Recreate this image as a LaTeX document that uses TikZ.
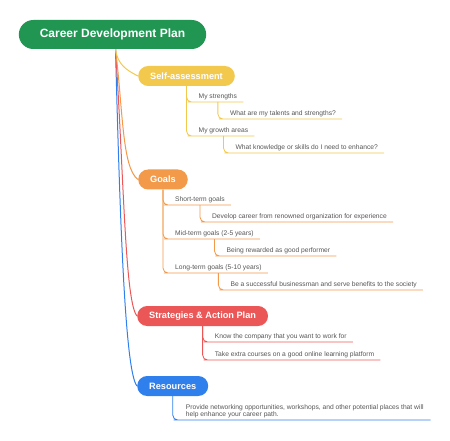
\documentclass[tikz,border=0pt]{standalone}
\usepackage{fontspec}
\setmainfont{Liberation Sans}
\usetikzlibrary{calc}
\definecolor{cgreen}{HTML}{219653}
\definecolor{cyellow}{HTML}{F2C94C}
\definecolor{corange}{HTML}{F2994A}
\definecolor{cred}{HTML}{EB5757}
\definecolor{cblue}{HTML}{2F80ED}
\definecolor{ctext}{HTML}{555555}
\begin{document}
\begin{tikzpicture}[x=1pt,y=-1pt,
 rootbox/.style={fill=cgreen, text=white, rounded corners=14.5pt, minimum height=29pt, inner xsep=21pt, font=\fontsize{12}{14}\selectfont\bfseries},
 topic/.style={fill=#1, text=white, rounded corners=10pt, minimum height=20pt, inner xsep=12pt, font=\fontsize{9.2}{11}\selectfont\bfseries, anchor=west},
 item/.style={text=ctext, font=\fontsize{6.7}{7.7}\selectfont, inner xsep=6pt, inner ysep=1.5pt, text height=5pt, text depth=1.5pt, anchor=south west, xshift=6pt},
 longitem/.style={text=ctext, font=\fontsize{6.7}{7.6}\selectfont, align=left, inner xsep=7pt, inner ysep=1.5pt, anchor=south west, xshift=6pt},
 link/.style={draw=#1, line width=0.8pt, rounded corners=5pt},
 branch/.style={draw=#1, line width=1pt}]
\useasboundingbox (0,0) rectangle (450,441);

% root and topics
\node[rootbox] (root) at (112.5,34.5) {Career Development Plan};
\node[topic=cyellow] (sa) at (138,76) {Self-assessment};
\node[topic=corange] (go) at (138,179.5) {Goals};
\node[topic=cred] (st) at (137,316) {Strategies \& Action Plan};
\node[topic=cblue] (re) at (137,386) {Resources};

% main branches
\coordinate (rs) at ([xshift=3pt]root.south);
\draw[branch=cblue] (rs) .. controls (120,220) and (125,372) .. (re.west);
\draw[branch=cred] (rs) .. controls (124,180) and (125,302) .. (st.west);
\draw[branch=corange] (rs) .. controls (123,110) and (122,168) .. (go.west);
\draw[branch=cyellow] (rs) .. controls ($(rs)+(2,15)$) and ($(sa.west)+(-12,-6)$) .. (sa.west);

% Self-assessment
\node[item] (sa1) at (sa.south |- 0,102) {My strengths};
\node[item] (sa11) at (sa1.south |- 0,119) {What are my talents and strengths?};
\node[item] (sa2) at (sa.south |- 0,136) {My growth areas};
\node[item] (sa21) at (sa2.south |- 0,153) {What knowledge or skills do I need to enhance?};
\draw[link=cyellow] (sa.south) |- (sa1.south west) -- (sa1.south east);
\draw[link=cyellow] (sa1.south) |- (sa11.south west) -- (sa11.south east);
\draw[link=cyellow] (sa.south) |- (sa2.south west) -- (sa2.south east);
\draw[link=cyellow] (sa2.south) |- (sa21.south west) -- (sa21.south east);

% Goals
\node[item] (g1) at (go.south |- 0,205) {Short-term goals};
\node[item] (g11) at (g1.south |- 0,222) {Develop career from renowned organization for experience};
\node[item] (g2) at (go.south |- 0,239) {Mid-term goals (2-5 years)};
\node[item] (g21) at (g2.south |- 0,256) {Being rewarded as good performer};
\node[item] (g3) at (go.south |- 0,273) {Long-term goals (5-10 years)};
\node[item] (g31) at (g3.south |- 0,290) {Be a successful businessman and serve benefits to the society};
\draw[link=corange] (go.south) |- (g1.south west) -- (g1.south east);
\draw[link=corange] (g1.south) |- (g11.south west) -- (g11.south east);
\draw[link=corange] (go.south) |- (g2.south west) -- (g2.south east);
\draw[link=corange] (g2.south) |- (g21.south west) -- (g21.south east);
\draw[link=corange] (go.south) |- (g3.south west) -- (g3.south east);
\draw[link=corange] (g3.south) |- (g31.south west) -- (g31.south east);

% Strategies
\node[item] (s1) at (st.south |- 0,342) {Know the company that you want to work for};
\node[item] (s2) at (st.south |- 0,360) {Take extra courses on a good online learning platform};
\draw[link=cred] (st.south) |- (s1.south west) -- (s1.south east);
\draw[link=cred] (st.south) |- (s2.south west) -- (s2.south east);

% Resources
\node[longitem] (r1) at (re.south |- 0,420) {Provide networking opportunities, workshops, and other potential places that will\\help enhance your career path.};
\draw[link=cblue] (re.south) |- (r1.south west) -- (r1.south east);
\end{tikzpicture}
\end{document}
